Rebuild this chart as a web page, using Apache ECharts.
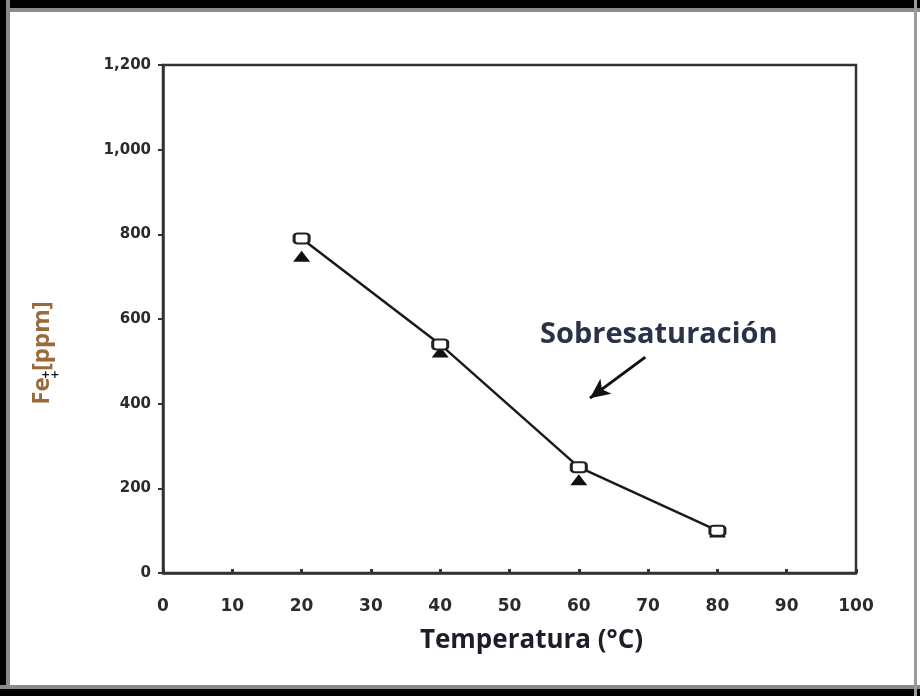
<!DOCTYPE html>
<html>
<head>
<meta charset="utf-8">
<script src="https://cdn.jsdelivr.net/npm/echarts@6/dist/echarts.min.js"></script>
<style>
html,body{margin:0;padding:0;background:#fff;}
#c{width:920px;height:696px;}
</style>
</head>
<body>
<div id="c"></div>
<script>
// Data
const temperatures = [20, 40, 60, 80];
const squareSeries = [790, 540, 250, 100];      // open squares, joined by line
const triangleSeries = [748, 522, 220, 97];     // filled triangles
const xTicks = [0, 10, 20, 30, 40, 50, 60, 70, 80, 90, 100];
const yTicks = [0, 200, 400, 600, 800, 1000, 1200];
const annotationText = 'Sobresaturación';
const yAxisTitle = 'Fe [ppm]';
const xAxisTitle = 'Temperatura (°C)';
const arrowFrom = [69.6, 510];
const arrowTo = [61.6, 413];

const chart = echarts.init(document.getElementById('c'), null, {renderer: 'canvas'});

const option = {
  backgroundColor: '#ffffff',
  animation: false,
  grid: {left: 163, right: 64, top: 65, bottom: 123, show: true, borderColor: '#333', borderWidth: 2.5, backgroundColor: 'transparent'},
  xAxis: {
    type: 'value', min: xTicks[0], max: xTicks[xTicks.length - 1], interval: 10,
    name: xAxisTitle, nameLocation: 'middle', nameGap: 55,
    nameTextStyle: {fontFamily: 'Open Sans', fontWeight: 'bold', fontSize: 26, color: '#1e1e28', padding: [0, 0, 0, 44]},
    axisLine: {show: true, lineStyle: {color: '#333', width: 2.5}},
    axisTick: {show: true, inside: true, length: 4, lineStyle: {color: '#333', width: 3}},
    axisLabel: {margin: 25, fontSize: 17, color: '#2b2b2b', fontFamily: 'DejaVu Sans', fontWeight: 'bold'},
    splitLine: {show: false}
  },
  yAxis: {
    type: 'value', min: yTicks[0], max: yTicks[yTicks.length - 1], interval: 200,
    axisLine: {show: true, lineStyle: {color: '#333', width: 2.5}},
    axisTick: {show: true, length: 5, lineStyle: {color: '#333', width: 2}},
    axisLabel: {margin: 12, fontSize: 15, color: '#2b2b2b', fontFamily: 'DejaVu Sans', fontWeight: 'bold',
                formatter: v => v.toLocaleString('en-US')},
    splitLine: {show: false}
  },
  series: [
    {
      type: 'line',
      data: temperatures.map((t, i) => [t, squareSeries[i]]),
      symbol: 'roundRect', symbolSize: [15, 10],
      itemStyle: {color: '#ffffff', borderColor: '#222', borderWidth: 2.5},
      lineStyle: {color: '#1a1a1a', width: 2.5},
      z: 3,
      markLine: {
        silent: true,
        symbol: ['none', 'arrow'], symbolSize: [14, 20],
        label: {show: false},
        lineStyle: {color: '#111', width: 3, type: 'solid'},
        data: [[{coord: arrowFrom}, {coord: arrowTo}]]
      }
    },
    {
      type: 'scatter',
      data: temperatures.map((t, i) => [t, triangleSeries[i]]),
      symbol: 'triangle', symbolSize: [17, 11],
      itemStyle: {color: '#111', opacity: 1},
      z: 2
    }
  ],
  graphic: [
    {type: 'text', left: 540, top: 320, style: {text: annotationText, font: 'bold 29px "Open Sans"', fill: '#2a3148'}},
    {type: 'text', x: 42, y: 353, rotation: Math.PI / 2,
     style: {text: yAxisTitle, font: 'bold 24px "Open Sans"', fill: '#9a6a3a', align: 'center', verticalAlign: 'middle'}},
    {type: 'text', left: 41, top: 370, style: {text: '++', font: 'bold 11px "DejaVu Sans"', fill: '#111'}},
    // photo frame
    {type: 'rect', shape: {x: 0, y: 0, width: 920, height: 8}, style: {fill: '#000'}},
    {type: 'rect', shape: {x: 0, y: 8, width: 920, height: 4}, style: {fill: '#8a8a8a'}},
    {type: 'rect', shape: {x: 0, y: 0, width: 6, height: 696}, style: {fill: '#000'}},
    {type: 'rect', shape: {x: 6, y: 0, width: 4, height: 696}, style: {fill: '#8a8a8a'}},
    {type: 'rect', shape: {x: 0, y: 689, width: 920, height: 7}, style: {fill: '#000'}},
    {type: 'rect', shape: {x: 0, y: 685, width: 920, height: 4}, style: {fill: '#8a8a8a'}},
    {type: 'rect', shape: {x: 914, y: 0, width: 3, height: 696}, style: {fill: '#9a9a9a'}}
  ]
};
chart.setOption(option);
</script>
</body>
</html>
